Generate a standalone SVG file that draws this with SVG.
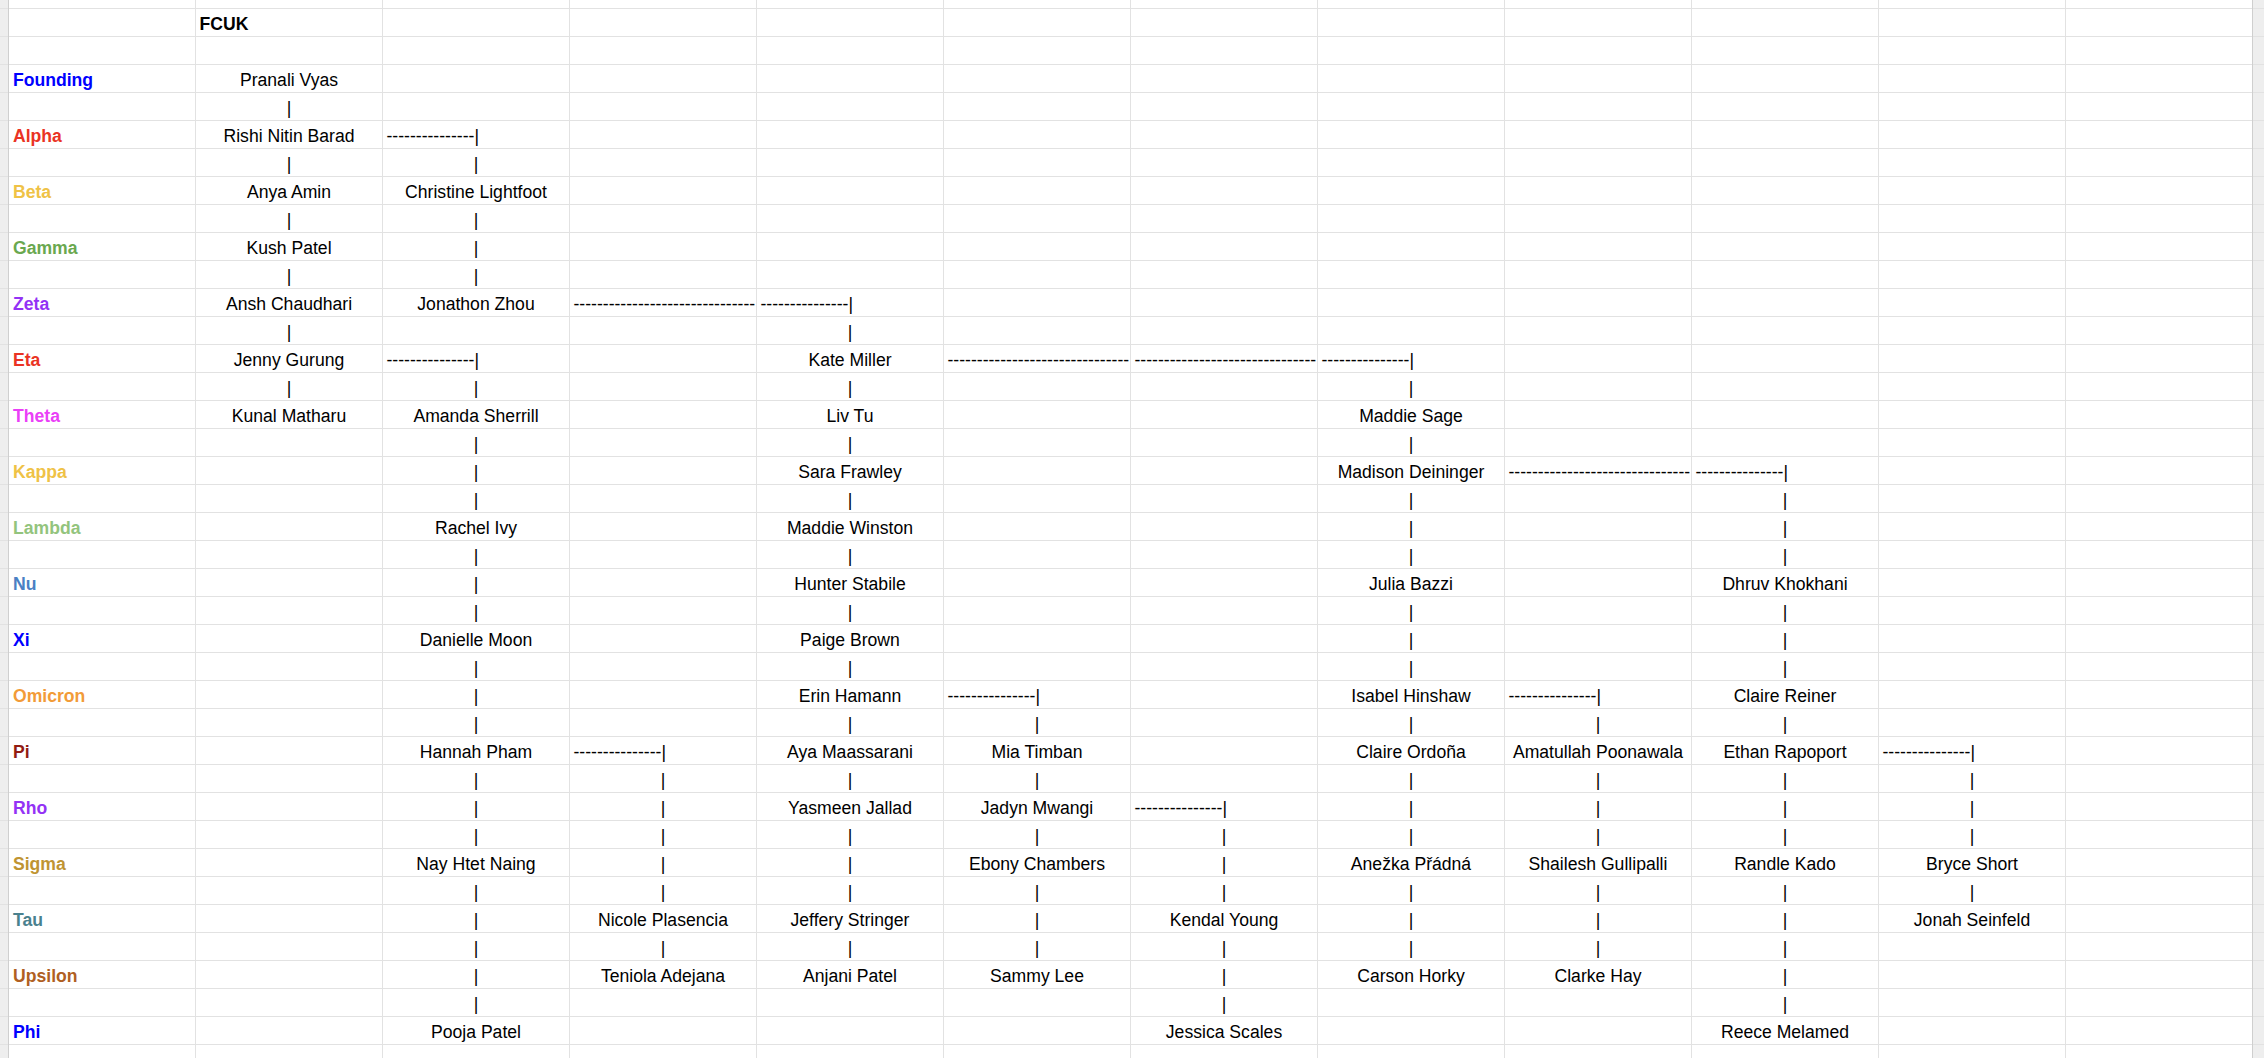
<svg xmlns="http://www.w3.org/2000/svg" width="2264" height="1058" viewBox="0 0 2264 1058">
<style>
text{font-family:"Liberation Sans",Arial,Helvetica,sans-serif;font-size:17.6px;fill:#000}
.n,.p{text-anchor:middle}
.d{text-anchor:start}
.l{font-weight:bold;text-anchor:start}
.grid{stroke:#e2e2e2;stroke-width:1;fill:none}
</style>
<rect x="0" y="0" width="2264" height="1058" fill="#ffffff"/>
<g id="grid">
<rect x="0" y="0" width="8" height="1058" fill="#eeeeee"/>
<rect x="2253" y="0" width="11" height="1058" fill="#eeeeee"/>
<path class="grid" d="M0 8.5H2264M0 36.5H2264M0 64.5H2264M0 92.5H2264M0 120.5H2264M0 148.5H2264M0 176.5H2264M0 204.5H2264M0 232.5H2264M0 260.5H2264M0 288.5H2264M0 316.5H2264M0 344.5H2264M0 372.5H2264M0 400.5H2264M0 428.5H2264M0 456.5H2264M0 484.5H2264M0 512.5H2264M0 540.5H2264M0 568.5H2264M0 596.5H2264M0 624.5H2264M0 652.5H2264M0 680.5H2264M0 708.5H2264M0 736.5H2264M0 764.5H2264M0 792.5H2264M0 820.5H2264M0 848.5H2264M0 876.5H2264M0 904.5H2264M0 932.5H2264M0 960.5H2264M0 988.5H2264M0 1016.5H2264M0 1044.5H2264"/>
<path class="grid" d="M195.5 0V1058M382.5 0V1058M569.5 0V1058M756.5 0V1058M943.5 0V1058M1130.5 0V1058M1317.5 0V1058M1504.5 0V1058M1691.5 0V1058M1878.5 0V1058M2065.5 0V1058"/>
<path d="M8.5 0V1058M2252.5 0V1058" stroke="#cfcfcf" stroke-width="1"/>
</g>
<g id="title"><text class="l" x="199.5" y="30">FCUK</text></g>
<g id="labels">
<text class="l" x="13" y="86" fill="#0000ff" style="fill:#0000ff">Founding</text>
<text class="l" x="13" y="142" style="fill:#ea3323">Alpha</text>
<text class="l" x="13" y="198" style="fill:#efc246">Beta</text>
<text class="l" x="13" y="254" style="fill:#6aa84f">Gamma</text>
<text class="l" x="13" y="310" style="fill:#9332f5">Zeta</text>
<text class="l" x="13" y="366" style="fill:#ea3323">Eta</text>
<text class="l" x="13" y="422" style="fill:#ea3ff7">Theta</text>
<text class="l" x="13" y="478" style="fill:#efc246">Kappa</text>
<text class="l" x="13" y="534" style="fill:#93c47d">Lambda</text>
<text class="l" x="13" y="590" style="fill:#4a80c4">Nu</text>
<text class="l" x="13" y="646" style="fill:#0000ff">Xi</text>
<text class="l" x="13" y="702" style="fill:#f29b38">Omicron</text>
<text class="l" x="13" y="758" style="fill:#921b12">Pi</text>
<text class="l" x="13" y="814" style="fill:#9332f5">Rho</text>
<text class="l" x="13" y="870" style="fill:#bf9432">Sigma</text>
<text class="l" x="13" y="926" style="fill:#4a818e">Tau</text>
<text class="l" x="13" y="982" style="fill:#b05f22">Upsilon</text>
<text class="l" x="13" y="1038" style="fill:#0000ff">Phi</text>
</g>
<g id="nodes">
<g id="n-pranali-vyas"><text class="n" x="289" y="86">Pranali Vyas</text></g>
<g id="n-rishi-nitin-barad"><text class="n" x="289" y="142">Rishi Nitin Barad</text></g>
<g id="n-anya-amin"><text class="n" x="289" y="198">Anya Amin</text></g>
<g id="n-christine-lightfoot"><text class="n" x="476" y="198">Christine Lightfoot</text></g>
<g id="n-kush-patel"><text class="n" x="289" y="254">Kush Patel</text></g>
<g id="n-ansh-chaudhari"><text class="n" x="289" y="310">Ansh Chaudhari</text></g>
<g id="n-jonathon-zhou"><text class="n" x="476" y="310">Jonathon Zhou</text></g>
<g id="n-jenny-gurung"><text class="n" x="289" y="366">Jenny Gurung</text></g>
<g id="n-kate-miller"><text class="n" x="850" y="366">Kate Miller</text></g>
<g id="n-kunal-matharu"><text class="n" x="289" y="422">Kunal Matharu</text></g>
<g id="n-amanda-sherrill"><text class="n" x="476" y="422">Amanda Sherrill</text></g>
<g id="n-liv-tu"><text class="n" x="850" y="422">Liv Tu</text></g>
<g id="n-maddie-sage"><text class="n" x="1411" y="422">Maddie Sage</text></g>
<g id="n-sara-frawley"><text class="n" x="850" y="478">Sara Frawley</text></g>
<g id="n-madison-deininger"><text class="n" x="1411" y="478">Madison Deininger</text></g>
<g id="n-rachel-ivy"><text class="n" x="476" y="534">Rachel Ivy</text></g>
<g id="n-maddie-winston"><text class="n" x="850" y="534">Maddie Winston</text></g>
<g id="n-hunter-stabile"><text class="n" x="850" y="590">Hunter Stabile</text></g>
<g id="n-julia-bazzi"><text class="n" x="1411" y="590">Julia Bazzi</text></g>
<g id="n-dhruv-khokhani"><text class="n" x="1785" y="590">Dhruv Khokhani</text></g>
<g id="n-danielle-moon"><text class="n" x="476" y="646">Danielle Moon</text></g>
<g id="n-paige-brown"><text class="n" x="850" y="646">Paige Brown</text></g>
<g id="n-erin-hamann"><text class="n" x="850" y="702">Erin Hamann</text></g>
<g id="n-isabel-hinshaw"><text class="n" x="1411" y="702">Isabel Hinshaw</text></g>
<g id="n-claire-reiner"><text class="n" x="1785" y="702">Claire Reiner</text></g>
<g id="n-hannah-pham"><text class="n" x="476" y="758">Hannah Pham</text></g>
<g id="n-aya-maassarani"><text class="n" x="850" y="758">Aya Maassarani</text></g>
<g id="n-mia-timban"><text class="n" x="1037" y="758">Mia Timban</text></g>
<g id="n-claire-ordona"><text class="n" x="1411" y="758">Claire Ordoña</text></g>
<g id="n-amatullah-poonawala"><text class="n" x="1598" y="758">Amatullah Poonawala</text></g>
<g id="n-ethan-rapoport"><text class="n" x="1785" y="758">Ethan Rapoport</text></g>
<g id="n-yasmeen-jallad"><text class="n" x="850" y="814">Yasmeen Jallad</text></g>
<g id="n-jadyn-mwangi"><text class="n" x="1037" y="814">Jadyn Mwangi</text></g>
<g id="n-nay-htet-naing"><text class="n" x="476" y="870">Nay Htet Naing</text></g>
<g id="n-ebony-chambers"><text class="n" x="1037" y="870">Ebony Chambers</text></g>
<g id="n-anezka-pradna"><text class="n" x="1411" y="870">Anežka Přádná</text></g>
<g id="n-shailesh-gullipalli"><text class="n" x="1598" y="870">Shailesh Gullipalli</text></g>
<g id="n-randle-kado"><text class="n" x="1785" y="870">Randle Kado</text></g>
<g id="n-bryce-short"><text class="n" x="1972" y="870">Bryce Short</text></g>
<g id="n-nicole-plasencia"><text class="n" x="663" y="926">Nicole Plasencia</text></g>
<g id="n-jeffery-stringer"><text class="n" x="850" y="926">Jeffery Stringer</text></g>
<g id="n-kendal-young"><text class="n" x="1224" y="926">Kendal Young</text></g>
<g id="n-jonah-seinfeld"><text class="n" x="1972" y="926">Jonah Seinfeld</text></g>
<g id="n-teniola-adejana"><text class="n" x="663" y="982">Teniola Adejana</text></g>
<g id="n-anjani-patel"><text class="n" x="850" y="982">Anjani Patel</text></g>
<g id="n-sammy-lee"><text class="n" x="1037" y="982">Sammy Lee</text></g>
<g id="n-carson-horky"><text class="n" x="1411" y="982">Carson Horky</text></g>
<g id="n-clarke-hay"><text class="n" x="1598" y="982">Clarke Hay</text></g>
<g id="n-pooja-patel"><text class="n" x="476" y="1038">Pooja Patel</text></g>
<g id="n-jessica-scales"><text class="n" x="1224" y="1038">Jessica Scales</text></g>
<g id="n-reece-melamed"><text class="n" x="1785" y="1038">Reece Melamed</text></g>
</g>
<g id="connectors">
<text class="p"><tspan x="289" y="114">|</tspan><tspan x="289" y="170">|</tspan><tspan x="289" y="226">|</tspan><tspan x="289" y="282">|</tspan><tspan x="289" y="338">|</tspan><tspan x="289" y="394">|</tspan></text>
<text class="p"><tspan x="476" y="170">|</tspan><tspan x="476" y="226">|</tspan><tspan x="476" y="254">|</tspan><tspan x="476" y="282">|</tspan><tspan x="476" y="394">|</tspan><tspan x="476" y="450">|</tspan><tspan x="476" y="478">|</tspan><tspan x="476" y="506">|</tspan><tspan x="476" y="562">|</tspan><tspan x="476" y="590">|</tspan><tspan x="476" y="618">|</tspan><tspan x="476" y="674">|</tspan><tspan x="476" y="702">|</tspan><tspan x="476" y="730">|</tspan><tspan x="476" y="786">|</tspan><tspan x="476" y="814">|</tspan><tspan x="476" y="842">|</tspan><tspan x="476" y="898">|</tspan><tspan x="476" y="926">|</tspan><tspan x="476" y="954">|</tspan><tspan x="476" y="982">|</tspan><tspan x="476" y="1010">|</tspan></text>
<text class="p"><tspan x="663" y="786">|</tspan><tspan x="663" y="814">|</tspan><tspan x="663" y="842">|</tspan><tspan x="663" y="870">|</tspan><tspan x="663" y="898">|</tspan><tspan x="663" y="954">|</tspan></text>
<text class="p"><tspan x="850" y="338">|</tspan><tspan x="850" y="394">|</tspan><tspan x="850" y="450">|</tspan><tspan x="850" y="506">|</tspan><tspan x="850" y="562">|</tspan><tspan x="850" y="618">|</tspan><tspan x="850" y="674">|</tspan><tspan x="850" y="730">|</tspan><tspan x="850" y="786">|</tspan><tspan x="850" y="842">|</tspan><tspan x="850" y="870">|</tspan><tspan x="850" y="898">|</tspan><tspan x="850" y="954">|</tspan></text>
<text class="p"><tspan x="1037" y="730">|</tspan><tspan x="1037" y="786">|</tspan><tspan x="1037" y="842">|</tspan><tspan x="1037" y="898">|</tspan><tspan x="1037" y="926">|</tspan><tspan x="1037" y="954">|</tspan></text>
<text class="p"><tspan x="1224" y="842">|</tspan><tspan x="1224" y="870">|</tspan><tspan x="1224" y="898">|</tspan><tspan x="1224" y="954">|</tspan><tspan x="1224" y="982">|</tspan><tspan x="1224" y="1010">|</tspan></text>
<text class="p"><tspan x="1411" y="394">|</tspan><tspan x="1411" y="450">|</tspan><tspan x="1411" y="506">|</tspan><tspan x="1411" y="534">|</tspan><tspan x="1411" y="562">|</tspan><tspan x="1411" y="618">|</tspan><tspan x="1411" y="646">|</tspan><tspan x="1411" y="674">|</tspan><tspan x="1411" y="730">|</tspan><tspan x="1411" y="786">|</tspan><tspan x="1411" y="814">|</tspan><tspan x="1411" y="842">|</tspan><tspan x="1411" y="898">|</tspan><tspan x="1411" y="926">|</tspan><tspan x="1411" y="954">|</tspan></text>
<text class="p"><tspan x="1598" y="730">|</tspan><tspan x="1598" y="786">|</tspan><tspan x="1598" y="814">|</tspan><tspan x="1598" y="842">|</tspan><tspan x="1598" y="898">|</tspan><tspan x="1598" y="926">|</tspan><tspan x="1598" y="954">|</tspan></text>
<text class="p"><tspan x="1785" y="506">|</tspan><tspan x="1785" y="534">|</tspan><tspan x="1785" y="562">|</tspan><tspan x="1785" y="618">|</tspan><tspan x="1785" y="646">|</tspan><tspan x="1785" y="674">|</tspan><tspan x="1785" y="730">|</tspan><tspan x="1785" y="786">|</tspan><tspan x="1785" y="814">|</tspan><tspan x="1785" y="842">|</tspan><tspan x="1785" y="898">|</tspan><tspan x="1785" y="926">|</tspan><tspan x="1785" y="954">|</tspan><tspan x="1785" y="982">|</tspan><tspan x="1785" y="1010">|</tspan></text>
<text class="p"><tspan x="1972" y="786">|</tspan><tspan x="1972" y="814">|</tspan><tspan x="1972" y="842">|</tspan><tspan x="1972" y="898">|</tspan></text>
<text class="d" x="386.5" y="142">---------------|</text>
<text class="d" x="573.5" y="310">-------------------------------</text>
<text class="d" x="760.5" y="310">---------------|</text>
<text class="d" x="386.5" y="366">---------------|</text>
<text class="d" x="947.5" y="366">-------------------------------</text>
<text class="d" x="1134.5" y="366">-------------------------------</text>
<text class="d" x="1321.5" y="366">---------------|</text>
<text class="d" x="1508.5" y="478">-------------------------------</text>
<text class="d" x="1695.5" y="478">---------------|</text>
<text class="d" x="947.5" y="702">---------------|</text>
<text class="d" x="1508.5" y="702">---------------|</text>
<text class="d" x="573.5" y="758">---------------|</text>
<text class="d" x="1882.5" y="758">---------------|</text>
<text class="d" x="1134.5" y="814">---------------|</text>
</g>
</svg>
